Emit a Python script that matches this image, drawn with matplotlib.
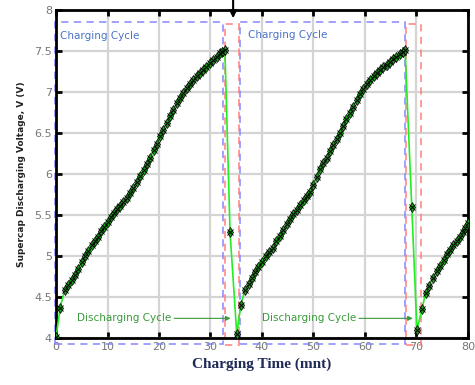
import numpy as np
import matplotlib.pyplot as plt
from matplotlib.patches import Rectangle

# dados
t = [0, 0.8, 1.7, 2.4, 3.1, 3.7, 4.3, 5.0, 5.6, 6.2, 7.0, 7.6, 8.2, 8.8, 9.4,
     10.0, 10.6, 11.2, 11.8, 12.4, 13.0, 13.7, 14.4, 15.0, 15.7, 16.4, 17.0,
     17.7, 18.3, 19.0, 19.6, 20.2, 20.8, 21.5, 22.2, 22.8, 23.5, 24.1, 24.7,
     25.4, 26.0, 26.6, 27.3, 28.0, 28.6, 29.2, 29.9, 30.5, 31.2, 31.8, 32.3,
     32.8, 33.8, 35.1,
     35.9, 36.7, 37.4, 38.0, 38.7, 39.3, 40.0, 40.7, 41.4, 42.2, 42.8, 43.5,
     44.1, 44.8, 45.5, 46.1, 46.8, 47.4, 48.1, 48.7, 49.3, 50.0, 50.6, 51.3,
     51.9, 52.6, 53.2, 53.8, 54.5, 55.1, 55.8, 56.4, 57.1, 57.7, 58.4, 59.0,
     59.7, 60.4, 61.0, 61.7, 62.3, 63.0, 63.6, 64.2, 64.9, 65.5, 66.1, 66.8,
     67.4, 67.8, 69.1, 70.1,
     71.1, 71.8, 72.5, 73.2, 74.0, 74.6, 75.3, 76.0, 76.5, 77.2, 77.8, 78.4,
     79.0, 79.5, 80.0]
v = [4.01, 4.37, 4.59, 4.65, 4.71, 4.77, 4.84, 4.93, 5.00, 5.06, 5.13, 5.18,
     5.23, 5.30, 5.36, 5.42, 5.47, 5.52, 5.57, 5.61, 5.66, 5.71, 5.77, 5.83,
     5.90, 5.97, 6.05, 6.12, 6.20, 6.29, 6.37, 6.46, 6.54, 6.62, 6.71, 6.78,
     6.86, 6.93, 6.99, 7.05, 7.10, 7.15, 7.19, 7.23, 7.27, 7.31, 7.35, 7.39,
     7.43, 7.47, 7.49, 7.51, 5.29, 4.05,
     4.40, 4.59, 4.66, 4.73, 4.80, 4.87, 4.93, 5.00, 5.05, 5.10, 5.18, 5.25,
     5.32, 5.39, 5.45, 5.51, 5.56, 5.62, 5.68, 5.73, 5.78, 5.87, 5.96, 6.06,
     6.13, 6.20, 6.28, 6.35, 6.43, 6.50, 6.59, 6.67, 6.75, 6.82, 6.90, 6.97,
     7.04, 7.10, 7.15, 7.20, 7.23, 7.27, 7.30, 7.33, 7.36, 7.40, 7.43, 7.46,
     7.49, 7.51, 5.60, 4.10,
     4.36, 4.55, 4.64, 4.73, 4.82, 4.88, 4.95, 5.02, 5.07, 5.13, 5.18, 5.23,
     5.29, 5.34, 5.40]

# regiões (x0, x1) dos ciclos
carga = [(-0.2, 32.4), (35.7, 67.8)]
descarga = [(32.8, 35.5), (68.0, 70.8)]

fig = plt.figure(figsize=(4.75, 3.85), dpi=100)
ax = fig.add_axes([0.118, 0.122, 0.867, 0.852])

ax.plot(t, v, '-', color='#22ee22', lw=1.2, zorder=3)
ax.plot(t, v, 'd', ms=5.5, mfc='#1aa01a', mec='k', mew=0.5, zorder=4)
ax.plot(t, v, 'x', ms=4, color='k', mew=0.7, zorder=5)

for x0, x1 in carga:
    ax.add_patch(Rectangle((x0, 3.93), x1 - x0, 7.85 - 3.93, fill=False,
                           ls=(0, (4, 3)), lw=1.3, ec='#7f7fff', alpha=0.8,
                           clip_on=False, zorder=2))
for x0, x1 in descarga:
    ax.add_patch(Rectangle((x0, 3.92), x1 - x0, 7.83 - 3.92, fill=False,
                           ls=(0, (4, 3)), lw=1.3, ec='#ff7777', alpha=0.8,
                           clip_on=False, zorder=2))

ax.text(0.7, 7.68, 'Charging Cycle', color='#4a72c8', fontsize=7.5, va='center')
ax.text(37.2, 7.70, 'Charging Cycle', color='#4a72c8', fontsize=7.5, va='center')

ax.annotate('Discharging Cycle', xy=(33.9, 4.24), xytext=(4.1, 4.24),
            color='#3a9a3a', fontsize=7.5, va='center',
            arrowprops=dict(arrowstyle='-|>', color='#3a9a3a', lw=0.8,
                            mutation_scale=7, shrinkA=0, shrinkB=0))
ax.annotate('Discharging Cycle', xy=(69.3, 4.24), xytext=(40.0, 4.24),
            color='#3a9a3a', fontsize=7.5, va='center',
            arrowprops=dict(arrowstyle='-|>', color='#3a9a3a', lw=0.8,
                            mutation_scale=7, shrinkA=0, shrinkB=0))

ax.annotate('', xy=(34.4, 7.9), xytext=(34.4, 8.13), annotation_clip=False,
            arrowprops=dict(arrowstyle='-|>', color='k', lw=1.5,
                            mutation_scale=10, shrinkA=0, shrinkB=0))

ax.set_xlim(0, 80)
ax.set_ylim(4, 8)
ax.set_xticks(np.arange(0, 81, 10))
ax.set_yticks(np.arange(4, 8.01, 0.5))
ax.set_yticklabels(['4', '4.5', '5', '5.5', '6', '6.5', '7', '7.5', '8'])
ax.grid(True, color='#d4d4d4', lw=1.6)
ax.set_axisbelow(True)
for s in ax.spines.values():
    s.set_linewidth(2)
ax.tick_params(direction='in', length=4, width=2, labelsize=8,
               labelcolor='#777777', top=True, right=True, pad=3)

ax.set_ylabel('Supercap Discharging Voltage, V (V)', fontsize=6.5,
              color='#222222', fontweight='semibold', labelpad=6)
ax.set_xlabel('Charging Time (mnt)', family='Liberation Serif',
              fontweight='bold', fontsize=11, color='#1f2a55', labelpad=4)

fig.savefig('out.png', dpi=100)
